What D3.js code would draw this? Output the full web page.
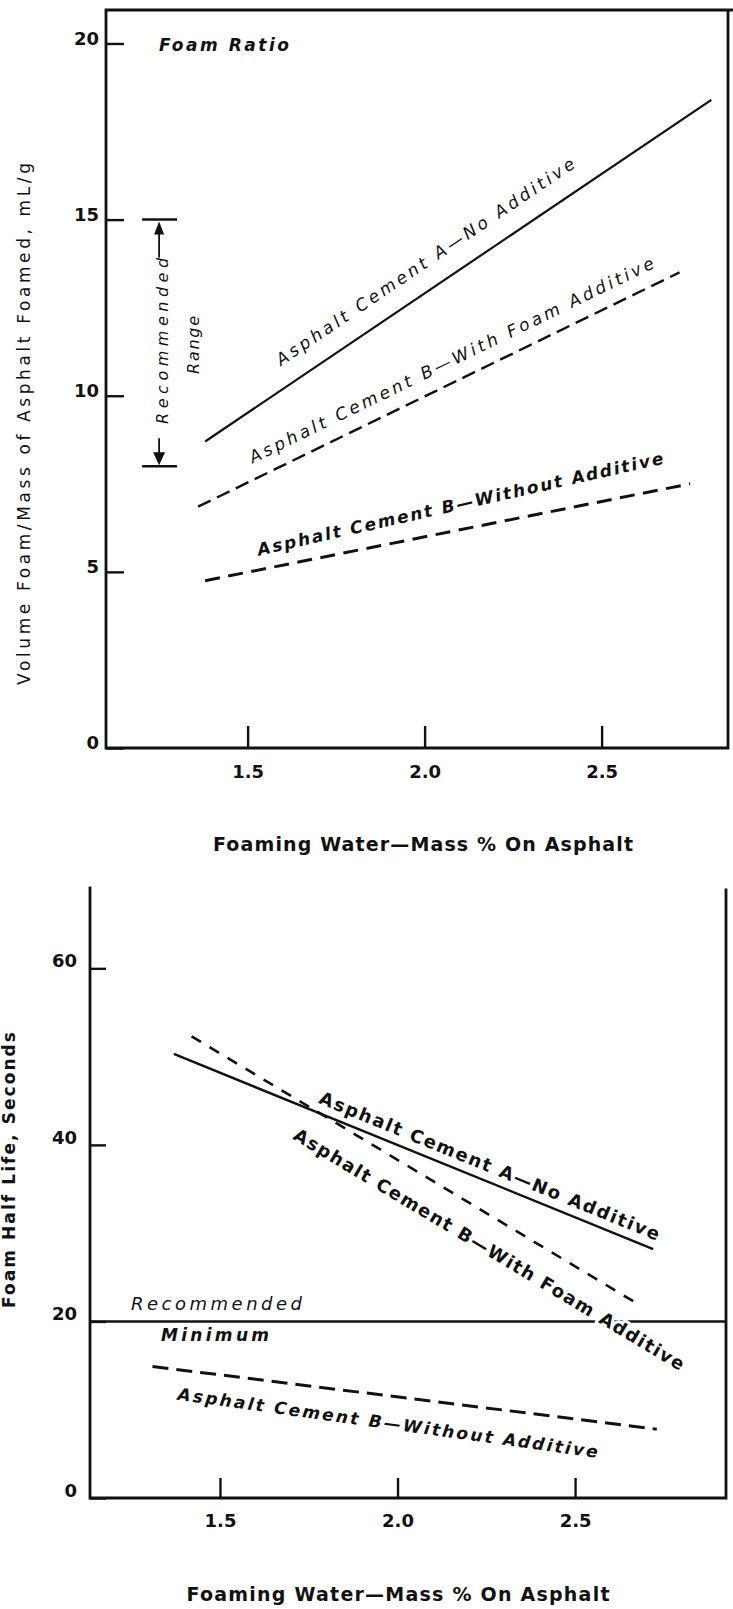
<!DOCTYPE html>
<html>
<head>
<meta charset="utf-8">
<script src="https://cdn.jsdelivr.net/npm/d3@7"></script>
<style>
  html, body { margin: 0; padding: 0; background: #fff; }
  svg { display: block; }
  text { font-family: "DejaVu Sans", "Liberation Sans", Arial, sans-serif; fill: #111; }
</style>
</head>
<body>
<script>
// Foaming water content, mass % on asphalt (shared x variable)
const waterTicks = [1.5, 2.0, 2.5];
const seriesNames = [
  "Asphalt Cement A—No Additive",
  "Asphalt Cement B—With Foam Additive",
  "Asphalt Cement B—Without Additive"
];

// Panel 1: foam ratio, mL/g (each series is a straight trend between two water contents)
const ratioTicks = [0, 5, 10, 15, 20];
const ratioWaterFrom = [1.38, 1.36, 1.38];
const ratioWaterTo = [2.81, 2.72, 2.75];
const ratioFrom = [8.7, 6.85, 4.75];
const ratioTo = [18.4, 13.5, 7.5];
const ratioRecommended = [8, 15];

// Panel 2: foam half life, seconds
const halfLifeTicks = [0, 20, 40, 60];
const halfWaterFrom = [1.37, 1.42, 1.31];
const halfWaterTo = [2.72, 2.68, 2.73];
const halfFrom = [50.3, 52.3, 14.9];
const halfTo = [28.2, 21.9, 7.8];
const halfLifeMinimum = 20;

const INK = "#111";
const FONT = "DejaVu Sans, Liberation Sans, Arial, sans-serif";

const svg = d3.select("body").append("svg")
  .attr("width", 733).attr("height", 1609);

function seriesPoints(wFrom, wTo, vFrom, vTo, i) {
  return [[wFrom[i], vFrom[i]], [wTo[i], vTo[i]]];
}

// Places a label along a series line: t = fraction along the line,
// off = perpendicular distance of the baseline (positive = above the line)
function lineLabel(g, x, y, pts, text, spec) {
  const p0 = [x(pts[0][0]), y(pts[0][1])];
  const p1 = [x(pts[1][0]), y(pts[1][1])];
  const dx = p1[0] - p0[0], dy = p1[1] - p0[1];
  const len = Math.hypot(dx, dy);
  const ux = dx / len, uy = dy / len;
  const nx = uy, ny = -ux;
  const ax = p0[0] + spec.t * dx + spec.off * nx;
  const ay = p0[1] + spec.t * dy + spec.off * ny;
  const ang = Math.atan2(dy, dx) * 180 / Math.PI + (spec.tilt || 0);
  const t = g.append("text")
    .attr("transform", `translate(${ax},${ay}) rotate(${ang})`)
    .attr("font-size", spec.size)
    .attr("font-weight", spec.weight)
    .attr("font-style", spec.style)
    .attr("textLength", spec.length)
    .attr("lengthAdjust", "spacing")
    .text(text);
  if (spec.halo) {
    t.attr("stroke", "#fff").attr("stroke-width", 6)
     .attr("stroke-linejoin", "round").attr("paint-order", "stroke");
  }
}

function styleAxis(a, size) {
  a.attr("font-family", FONT).attr("font-size", size).attr("color", INK);
  a.select(".domain").remove();
  a.selectAll(".tick line").attr("stroke", INK).attr("stroke-width", 2.4);
  a.selectAll(".tick text").attr("font-weight", "bold").attr("fill", INK);
}

const lineGen = (x, y) => d3.line().x(d => x(d[0])).y(d => y(d[1]));

/* ---------------- Panel 1: Foam ratio ---------------- */
{
  const g = svg.append("g");
  const x = d3.scaleLinear().domain([1.1, 2.857]).range([106, 728]);
  const y = d3.scaleLinear().domain([0, 20.95]).range([748, 10]);

  g.append("g").attr("transform", `translate(0,${y(0)})`)
    .call(d3.axisBottom(x).tickValues(waterTicks).tickFormat(d3.format(".1f"))
      .tickSize(-22).tickPadding(17))
    .call(a => styleAxis(a, 18));

  g.append("g").attr("transform", `translate(${x(1.1)},0)`)
    .call(d3.axisLeft(y).tickValues(ratioTicks).tickSize(-18).tickPadding(7))
    .call(a => styleAxis(a, 18))
    .call(a => a.selectAll(".tick text").attr("dy", "0.05em"));

  // frame
  const [xl, xr] = x.range();
  const [yb, yt] = y.range();
  g.append("path")
    .attr("d", `M${xl},${yt} V${yb} H${xr} V${yt} M${xl},${yt} H733`)
    .attr("fill", "none").attr("stroke", INK).attr("stroke-width", 2.8)
    .attr("stroke-linecap", "square");

  // series
  const styles = [
    { dash: null, width: 2.2 },
    { dash: "14,7", width: 2.4 },
    { dash: "15,8.5", width: 3 }
  ];
  const lg = lineGen(x, y);
  seriesNames.forEach((name, i) => {
    g.append("path")
      .attr("d", lg(seriesPoints(ratioWaterFrom, ratioWaterTo, ratioFrom, ratioTo, i)))
      .attr("fill", "none").attr("stroke", INK)
      .attr("stroke-width", styles[i].width)
      .attr("stroke-dasharray", styles[i].dash);
  });

  const labelSpecs = [
    { t: 0.172, off: 20, size: 17, weight: "normal", style: "italic", length: 356 },
    { t: 0.127, off: 15, size: 17, weight: "normal", style: "italic", length: 448 },
    { t: 0.116, off: 14, size: 17, weight: "bold", style: "italic", length: 416, tilt: -1.5 }
  ];
  seriesNames.forEach((name, i) => {
    lineLabel(g, x, y, seriesPoints(ratioWaterFrom, ratioWaterTo, ratioFrom, ratioTo, i), name, labelSpecs[i]);
  });

  // recommended range bracket
  const rx = x(1.25);
  const yHi = y(ratioRecommended[1]), yLo = y(ratioRecommended[0]);
  const br = g.append("g").attr("stroke", INK).attr("fill", INK);
  br.append("line").attr("x1", rx - 17).attr("x2", rx + 18).attr("y1", yHi).attr("y2", yHi).attr("stroke-width", 2.5);
  br.append("line").attr("x1", rx - 17).attr("x2", rx + 18).attr("y1", yLo).attr("y2", yLo).attr("stroke-width", 2.5);
  br.append("line").attr("x1", rx).attr("x2", rx).attr("y1", yHi + 14).attr("y2", yHi + 38).attr("stroke-width", 1.8);
  br.append("line").attr("x1", rx).attr("x2", rx).attr("y1", yLo - 28).attr("y2", yLo - 13).attr("stroke-width", 1.8);
  br.append("path").attr("stroke", "none")
    .attr("d", `M${rx},${yHi + 2} L${rx - 5},${yHi + 15} L${rx + 5},${yHi + 15} Z`);
  br.append("path").attr("stroke", "none")
    .attr("d", `M${rx},${yLo - 1} L${rx - 6},${yLo - 14} L${rx + 6},${yLo - 14} Z`);

  const midY = (yHi + yLo) / 2;
  g.append("text")
    .attr("transform", `translate(${rx + 9},${midY - 2}) rotate(-90)`)
    .attr("text-anchor", "middle").attr("font-size", 16).attr("font-style", "italic")
    .attr("textLength", 166).attr("lengthAdjust", "spacing")
    .text("Recommended");
  g.append("text")
    .attr("transform", `translate(${rx + 40},${midY + 2}) rotate(-90)`)
    .attr("text-anchor", "middle").attr("font-size", 16).attr("font-style", "italic")
    .attr("textLength", 58).attr("lengthAdjust", "spacing")
    .text("Range");

  g.append("text")
    .attr("x", 159).attr("y", 51)
    .attr("font-size", 17).attr("font-weight", "bold").attr("font-style", "italic")
    .attr("textLength", 130).attr("lengthAdjust", "spacing")
    .text("Foam Ratio");

  g.append("text")
    .attr("transform", "translate(30,424) rotate(-90)")
    .attr("text-anchor", "middle").attr("font-size", 17)
    .attr("textLength", 522).attr("lengthAdjust", "spacing")
    .text("Volume Foam/Mass of Asphalt Foamed, mL/g");

  g.append("text")
    .attr("x", 423).attr("y", 851).attr("text-anchor", "middle")
    .attr("font-size", 19).attr("font-weight", "bold")
    .attr("textLength", 420).attr("lengthAdjust", "spacing")
    .text("Foaming Water—Mass % On Asphalt");
}

/* ---------------- Panel 2: Foam half life ---------------- */
{
  const g = svg.append("g");
  const x = d3.scaleLinear().domain([1.134, 2.925]).range([90, 726]);
  const y = d3.scaleLinear().domain([0, 69.1]).range([1498, 888]);

  g.append("g").attr("transform", `translate(0,${y(0)})`)
    .call(d3.axisBottom(x).tickValues(waterTicks).tickFormat(d3.format(".1f"))
      .tickSize(-20).tickPadding(16))
    .call(a => styleAxis(a, 18));

  g.append("g").attr("transform", `translate(${x(1.134)},0)`)
    .call(d3.axisLeft(y).tickValues(halfLifeTicks).tickSize(-16).tickPadding(13))
    .call(a => styleAxis(a, 18))
    .call(a => a.selectAll(".tick text").attr("dy", "-0.1em"));

  const [xl, xr] = x.range();
  const [yb, yt] = y.range();
  g.append("path")
    .attr("d", `M${xl},${yt} V${yb} H${xr} V${yt + 2}`)
    .attr("fill", "none").attr("stroke", INK).attr("stroke-width", 2.8)
    .attr("stroke-linecap", "square");

  // recommended minimum half life
  g.append("line")
    .attr("x1", xl).attr("x2", xr)
    .attr("y1", y(halfLifeMinimum)).attr("y2", y(halfLifeMinimum))
    .attr("stroke", INK).attr("stroke-width", 2.6);

  const lg = lineGen(x, y);
  const styles2 = [
    { dash: null, width: 2.4 },
    { dash: "11,10", width: 2.6 },
    { dash: "16,8", width: 3 }
  ];
  seriesNames.forEach((name, i) => {
    g.append("path")
      .attr("d", lg(seriesPoints(halfWaterFrom, halfWaterTo, halfFrom, halfTo, i)))
      .attr("fill", "none").attr("stroke", INK)
      .attr("stroke-width", styles2[i].width)
      .attr("stroke-dasharray", styles2[i].dash);
  });

  const labelSpecs = [
    { t: 0.293, off: 9, size: 18, weight: "bold", style: "normal", length: 366 },
    { t: 0.266, off: -36, size: 18, weight: "bold", style: "normal", length: 452, halo: true },
    { t: 0.056, off: -30, size: 17, weight: "bold", style: "italic", length: 424, tilt: 0.8 }
  ];
  seriesNames.forEach((name, i) => {
    lineLabel(g, x, y, seriesPoints(halfWaterFrom, halfWaterTo, halfFrom, halfTo, i), name, labelSpecs[i]);
  });

  g.append("text")
    .attr("x", 131).attr("y", y(halfLifeMinimum) - 11)
    .attr("font-size", 18).attr("font-style", "italic")
    .attr("textLength", 171).attr("lengthAdjust", "spacing")
    .text("Recommended");
  g.append("text")
    .attr("x", 161).attr("y", y(halfLifeMinimum) + 20)
    .attr("font-size", 17).attr("font-weight", "bold").attr("font-style", "italic")
    .attr("textLength", 108).attr("lengthAdjust", "spacing")
    .text("Minimum");

  g.append("text")
    .attr("transform", "translate(15,1170) rotate(-90)")
    .attr("text-anchor", "middle").attr("font-size", 17).attr("font-weight", "bold")
    .attr("textLength", 276).attr("lengthAdjust", "spacing")
    .text("Foam Half Life, Seconds");

  g.append("text")
    .attr("x", 398).attr("y", 1601).attr("text-anchor", "middle")
    .attr("font-size", 19).attr("font-weight", "bold")
    .attr("textLength", 423).attr("lengthAdjust", "spacing")
    .text("Foaming Water—Mass % On Asphalt");
}
</script>
</body>
</html>
